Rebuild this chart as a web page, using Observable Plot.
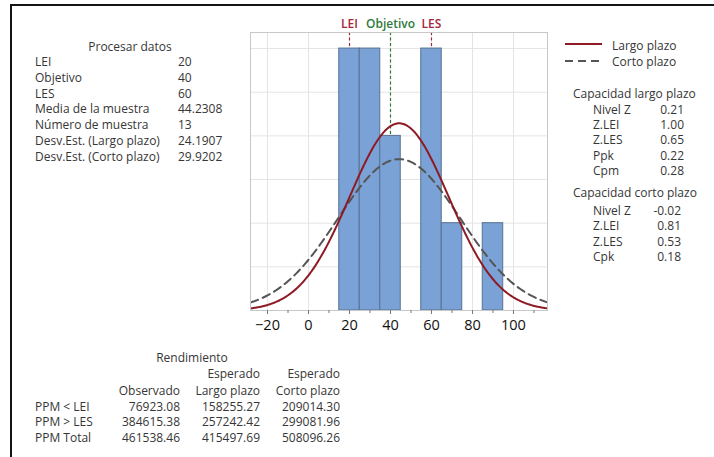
<!DOCTYPE html>
<html>
<head>
<meta charset="utf-8">
<script src="https://cdn.jsdelivr.net/npm/d3@7"></script>
<script src="https://cdn.jsdelivr.net/npm/@observablehq/plot@0.6"></script>
<style>
  html, body { margin: 0; padding: 0; background: #fff; }
  #page { position: relative; width: 714px; height: 457px; overflow: hidden; font-family: "Open Sans", "Noto Sans", sans-serif; color: #363636; }
  #border { position: absolute; left: 10px; top: 4px; width: 800px; height: 600px; border-top: 2.5px solid #151515; border-left: 2.5px solid #151515; }
  .t { position: absolute; font-size: 12px; line-height: 14px; white-space: nowrap; }
  #chart { position: absolute; left: 230px; top: 0px; }
</style>
</head>
<body>
<div id="page">
  <div id="border"></div>
  <div id="chart"></div>
</div>
<script>
// ---------- data ----------
const procTitle = "Procesar datos";
const procLabels = ["LEI", "Objetivo", "LES", "Media de la muestra", "Número de muestra", "Desv.Est. (Largo plazo)", "Desv.Est. (Corto plazo)"];
const procValues = ["20", "40", "60", "44.2308", "13", "24.1907", "29.9202"];

const binStarts = [15, 25, 35, 45, 55, 65, 75, 85];
const binCounts = [3, 3, 2, 0, 3, 1, 0, 1];
const binWidth = 10;

const specNames = ["LEI", "Objetivo", "LES"];
const specValues = [20, 40, 60];

const sampleMean = 44.2308;
const sampleN = 13;
const sdLong = 24.1907;
const sdShort = 29.9202;

const xTicks = [-20, 0, 20, 40, 60, 80, 100];
const xMinorTicks = [-10, 10, 30, 50, 70, 90, 110];
const yGrid = [0.5, 1, 1.5, 2, 2.5, 3];

const legendLabels = ["Largo plazo", "Corto plazo"];

const capLongTitle = "Capacidad largo plazo";
const capLongLabels = ["Nivel Z", "Z.LEI", "Z.LES", "Ppk", "Cpm"];
const capLongValues = ["0.21", "1.00", "0.65", "0.22", "0.28"];
const capShortTitle = "Capacidad corto plazo";
const capShortLabels = ["Nivel Z", "Z.LEI", "Z.LES", "Cpk"];
const capShortValues = ["-0.02", "0.81", "0.53", "0.18"];

const yieldTitle = "Rendimiento";
const yieldHead1 = ["", "Esperado", "Esperado"];
const yieldHead2 = ["Observado", "Largo plazo", "Corto plazo"];
const yieldRows = ["PPM < LEI", "PPM > LES", "PPM Total"];
const yieldObserved = ["76923.08", "384615.38", "461538.46"];
const yieldLong = ["158255.27", "257242.42", "415497.69"];
const yieldShort = ["209014.30", "299081.96", "508096.26"];

// ---------- text helpers ----------
const page = document.getElementById("page");
function put(text, x, cy, opts = {}) {
  const d = document.createElement("div");
  d.className = "t";
  d.textContent = text;
  d.style.top = (cy - 7) + "px";
  if (opts.align === "right") { d.style.right = (714 - x) + "px"; d.style.textAlign = "right"; }
  else if (opts.align === "center") { d.style.left = (x - 150) + "px"; d.style.width = "300px"; d.style.textAlign = "center"; }
  else d.style.left = x + "px";
  if (opts.color) d.style.color = opts.color;
  page.appendChild(d);
}

// Procesar datos
put(procTitle, 130, 47, {align: "center"});
procLabels.forEach((l, i) => {
  const cy = 62 + i * 15.8;
  put(l, 35, cy);
  put(procValues[i], 178, cy);
});

// Legend
const legSvg = document.createElementNS("http://www.w3.org/2000/svg", "svg");
legSvg.setAttribute("width", 50); legSvg.setAttribute("height", 40);
legSvg.style.position = "absolute"; legSvg.style.left = "560px"; legSvg.style.top = "30px";
legSvg.innerHTML = '<line x1="5" x2="42" y1="14" y2="14" stroke="#8e1b24" stroke-width="2"/>' +
  '<line x1="5" x2="42" y1="31" y2="31" stroke="#555" stroke-width="2" stroke-dasharray="8,5"/>';
page.appendChild(legSvg);
put(legendLabels[0], 612, 46);
put(legendLabels[1], 612, 62);

// Capacity
put(capLongTitle, 573, 94);
capLongLabels.forEach((l, i) => {
  const cy = 109.5 + i * 15.4;
  put(l, 593, cy);
  put(capLongValues[i], 684, cy, {align: "right"});
});
put(capShortTitle, 573, 193);
capShortLabels.forEach((l, i) => {
  const cy = 211 + i * 15.4;
  put(l, 593, cy);
  put(capShortValues[i], 681, cy, {align: "right"});
});

// Rendimiento
put(yieldTitle, 192, 358, {align: "center"});
const colRight = [180, 260, 340];
yieldHead1.forEach((h, i) => { if (h) put(h, colRight[i], 373.5, {align: "right"}); });
yieldHead2.forEach((h, i) => put(h, colRight[i], 390.5, {align: "right"}));
yieldRows.forEach((r, i) => {
  const cy = 406.5 + i * 15.5;
  put(r, 35, cy);
  put(yieldObserved[i], colRight[0], cy, {align: "right"});
  put(yieldLong[i], colRight[1], cy, {align: "right"});
  put(yieldShort[i], colRight[2], cy, {align: "right"});
});

// ---------- chart ----------
const xDomain = [-28.3, 116.6];
const yTop = 3.184;
const bins = binStarts.map((s, i) => ({x1: s, x2: s + binWidth, count: binCounts[i]})).filter(d => d.count > 0);
const specs = specNames.map((name, i) => ({name, value: specValues[i], color: name === "Objetivo" ? "#2e7a3c" : "#a3263b"}));

const scale = sampleN * binWidth;
function normalCurve(sd) {
  const pts = [];
  for (let x = xDomain[0]; x <= xDomain[1] + 1e-9; x += 0.5) {
    const z = (x - sampleMean) / sd;
    pts.push({x, y: scale * Math.exp(-0.5 * z * z) / (sd * Math.sqrt(2 * Math.PI))});
  }
  return pts;
}
const curveLong = normalCurve(sdLong);
const curveShort = normalCurve(sdShort);

const chart = Plot.plot({
  width: 330,
  height: 340,
  marginLeft: 20,
  marginRight: 13,
  marginTop: 32,
  marginBottom: 30,
  style: {fontFamily: "'Open Sans', 'Noto Sans', sans-serif", background: "transparent"},
  x: {domain: xDomain},
  y: {domain: [0, yTop], axis: null},
  marks: [
    Plot.gridY(yGrid, {stroke: "#e4e4e4", strokeOpacity: 1}),
    Plot.gridX(xTicks, {stroke: "#e4e4e4", strokeOpacity: 1}),
    Plot.ruleX(specs, {x: "value", y1: 0, y2: yTop, stroke: "color", strokeWidth: 1.2, strokeDasharray: "3,2.5"}),
    Plot.rectY(bins, {x1: "x1", x2: "x2", y: "count", fill: "#7aa2d6", stroke: "#58718f", strokeWidth: 1, inset: 0}),
    Plot.line(curveShort, {x: "x", y: "y", stroke: "#555", strokeWidth: 2, strokeDasharray: "8,5", clip: true}),
    Plot.line(curveLong, {x: "x", y: "y", stroke: "#8e1b24", strokeWidth: 2, clip: true}),
    Plot.frame({stroke: "#c8c8c8"}),
    Plot.text(specs, {x: "value", y: yTop, dy: -8, text: "name", fill: "color", fontSize: 12, fontWeight: 600}),
    Plot.axisX(xMinorTicks.filter(t => t < xDomain[1]), {tickSize: 3, text: null, stroke: "#777"}),
    Plot.axisX(xTicks, {tickSize: 4, tickPadding: 5, fontSize: 14.5, stroke: "#777", fill: "#111", label: null})
  ]
});
document.getElementById("chart").appendChild(chart);
</script>
</body>
</html>
